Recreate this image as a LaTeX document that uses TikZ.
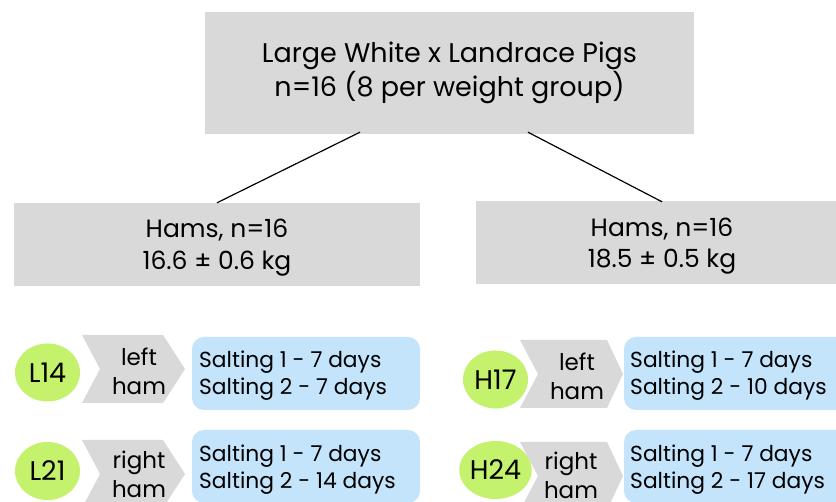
\documentclass[tikz,border=0pt]{standalone}
\usepackage{fontspec}
\setmainfont{Poppins}
\usetikzlibrary{calc,shapes.geometric}

\definecolor{boxgray}{HTML}{D9D9D9}
\definecolor{tagGreen}{HTML}{C4F26C}
\definecolor{saltBlue}{HTML}{C3E4FB}

\tikzset{
  graybox/.style={fill=boxgray, draw=none, inner sep=0pt, align=center},
  grouptext/.style={inner sep=0pt, align=center, font=\fontsize{25}{32}\selectfont},
  tag/.style={ellipse, fill=tagGreen, draw=none, inner sep=0pt, minimum width=65pt, minimum height=58pt, font=\fontsize{27}{30}\selectfont},
  chevron/.style={fill=boxgray, draw=none},
  sidelabel/.style={inner sep=0pt, align=center, font=\fontsize{23}{29}\selectfont},
  saltbox/.style={fill=saltBlue, draw=none, rounded corners=12pt, inner sep=0pt, minimum width=228pt, minimum height=73pt},
  salttext/.style={anchor=west, inner sep=0pt, align=left, font=\fontsize{21.8}{27}\selectfont},
  link/.style={draw=black, line width=1.2pt}
}

% chevron: left x, notch depth, right corner x, tip x, top y, bottom y
\newcommand{\chev}[6]{%
  \fill[chevron] (#1,#5) -- (#3,#5) -- (#4,{(#5+#6)/2}) -- (#3,#6) -- (#1,#6) -- ({#1+#2},{(#5+#6)/2}) -- cycle;}

\begin{document}
\begin{tikzpicture}[x=1pt, y=-1pt]
\useasboundingbox (0,0) rectangle (836,502);
\fill[white] (0,0) rectangle (836,502);

% pigs and the two weight groups
\node[graybox, minimum width=489pt, minimum height=122pt, font=\fontsize{27}{34}\selectfont] (pigs) at (449.5,73)
  {Large White x Landrace Pigs\\n=16 (8 per weight group)};
\node[graybox, minimum width=406pt, minimum height=83pt] (light) at (217,244.5) {};
\node[grouptext] (lighttxt) at (217,248) {Hams, n=16\\16.6 ± 0.6 kg};
\node[graybox, minimum width=372pt, minimum height=83pt] (heavy) at (662,242.5) {};
\node[grouptext, font=\fontsize{25}{31}\selectfont] (heavytxt) at (662,246.5) {Hams, n=16\\18.5 ± 0.5 kg};

\coordinate (pl) at ($(pigs.south)+(-89.5,-2)$);
\coordinate (pr) at ($(pigs.south)+(78.5,-2)$);
\draw[link] (pl) -- (light.north);
\draw[link] (pr) -- ($(heavy.north)+(0,1)$);

% light group
\node[tag] (L14) at (47.5,372.5) {L14};
\chev{82}{18}{163}{185}{335}{403}
\node[sidelabel] (L14side) at (139,371) {left\\ham};
\node[saltbox] (L14salt) at (306,373.5) {};
\node[salttext] (L14txt) at (199,375.5) {Salting 1 - 7 days\\Salting 2 - 7 days};

\node[tag] (L21) at (47.5,471) {L21};
\chev{82}{18}{163}{185}{440}{508}
\node[sidelabel] (L21side) at (139,474) {right\\ham};
\node[saltbox] (L21salt) at (306,466.5) {};
\node[salttext] (L21txt) at (199,469.5) {Salting 1 - 7 days\\Salting 2 - 14 days};

% heavy group
\node[tag] (H17) at (495.5,379.5) {H17};
\chev{520}{18}{607}{623}{340}{408}
\node[sidelabel] (H17side) at (577,376) {left\\ham};
\node[saltbox] (H17salt) at (738,373.5) {};
\node[salttext] (H17txt) at (630,375.5) {Salting 1 - 7 days\\Salting 2 - 10 days};

\node[tag] (H24) at (495.5,470) {H24};
\chev{520}{18}{607}{623}{442}{510}
\node[sidelabel] (H24side) at (571,475) {right\\ham};
\node[saltbox] (H24salt) at (738,466.5) {};
\node[salttext] (H24txt) at (630,469.5) {Salting 1 - 7 days\\Salting 2 - 17 days};
\end{tikzpicture}
\end{document}
